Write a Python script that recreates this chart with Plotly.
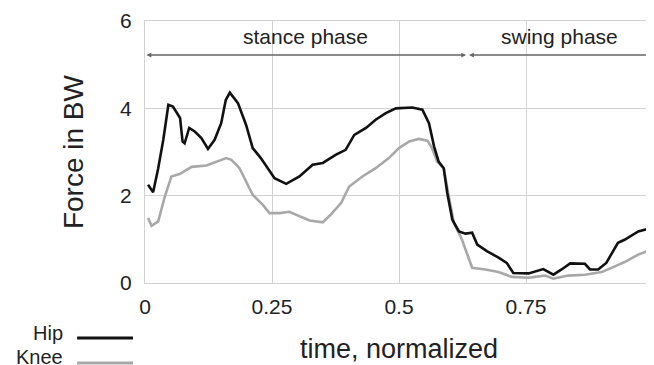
import plotly.graph_objects as go

# ---- data ----
hip_x = [0.006, 0.016, 0.026, 0.036, 0.046, 0.055, 0.069, 0.074, 0.078, 0.087, 0.098, 0.111,
         0.124, 0.137, 0.150, 0.159, 0.167, 0.183, 0.199, 0.212, 0.228, 0.242, 0.255, 0.278,
         0.304, 0.330, 0.350, 0.376, 0.395, 0.412, 0.435, 0.454, 0.474, 0.494, 0.526, 0.546,
         0.559, 0.569, 0.578, 0.588, 0.595, 0.605, 0.618, 0.631, 0.644, 0.654, 0.673, 0.696,
         0.712, 0.725, 0.755, 0.784, 0.804, 0.820, 0.837, 0.866, 0.876, 0.892, 0.908, 0.931,
         0.944, 0.971, 0.997]
hip_y = [2.25, 2.08, 2.63, 3.28, 4.08, 4.04, 3.78, 3.24, 3.20, 3.55, 3.47, 3.32,
         3.07, 3.28, 3.66, 4.19, 4.36, 4.12, 3.62, 3.09, 2.86, 2.63, 2.40, 2.27,
         2.44, 2.71, 2.75, 2.94, 3.05, 3.39, 3.55, 3.74, 3.89, 4.00, 4.02, 3.97,
         3.66, 3.13, 2.78, 2.63, 2.06, 1.45, 1.18, 1.13, 1.15, 0.88, 0.73, 0.58,
         0.46, 0.23, 0.22, 0.32, 0.19, 0.31, 0.45, 0.44, 0.31, 0.31, 0.46, 0.92,
         0.99, 1.18, 1.26]

knee_x = [0.006, 0.013, 0.026, 0.039, 0.052, 0.069, 0.082, 0.092, 0.121, 0.141, 0.160, 0.170,
          0.186, 0.212, 0.232, 0.245, 0.265, 0.284, 0.304, 0.324, 0.350, 0.366, 0.386, 0.402,
          0.428, 0.454, 0.480, 0.500, 0.520, 0.539, 0.556, 0.565, 0.575, 0.588, 0.598, 0.608,
          0.624, 0.644, 0.670, 0.696, 0.722, 0.755, 0.768, 0.788, 0.804, 0.833, 0.866, 0.899,
          0.925, 0.944, 0.971, 0.997]
knee_y = [1.49, 1.31, 1.41, 1.98, 2.44, 2.50, 2.59, 2.66, 2.69, 2.78, 2.86, 2.82,
          2.63, 2.02, 1.79, 1.60, 1.60, 1.63, 1.53, 1.43, 1.39, 1.57, 1.83, 2.21,
          2.44, 2.63, 2.86, 3.09, 3.24, 3.30, 3.26, 3.09, 2.78, 2.63, 1.98, 1.38,
          0.99, 0.35, 0.31, 0.25, 0.14, 0.12, 0.14, 0.17, 0.10, 0.17, 0.19, 0.25,
          0.38, 0.48, 0.65, 0.77]

x_tickvals = [0, 0.25, 0.5, 0.75, 1]
x_ticktext = ["0", "0.25", "0.5", "0.75", "1"]
y_tickvals = [0, 2, 4, 6]
y_ticktext = ["0", "2", "4", "6"]

phase_names = ["stance phase", "swing phase"]
phase_bounds = [(0.0, 0.632), (0.635, 1.0)]
phase_label_x = [0.316, 0.816]
arrow_y = 5.22
label_y = 5.65

FONT = "Arial, Liberation Sans, Helvetica, sans-serif"
TXT = "#222222"
GRID = "#d2d2d2"

fig = go.Figure()
fig.add_trace(go.Scatter(x=knee_x, y=knee_y, mode="lines", name="Knee",
                         line=dict(color="#a8a8a8", width=2.6)))
fig.add_trace(go.Scatter(x=hip_x, y=hip_y, mode="lines", name="Hip",
                         line=dict(color="#111111", width=2.6)))

annotations = []
for name, (a, b), lx in zip(phase_names, phase_bounds, phase_label_x):
    annotations.append(dict(x=b, y=arrow_y, ax=a, ay=arrow_y, xref="x", yref="y",
                            axref="x", ayref="y", text="", showarrow=True,
                            arrowhead=2, arrowsize=0.6, arrowwidth=1.6,
                            arrowside="end+start", arrowcolor="#666666"))
    annotations.append(dict(x=lx, y=label_y, xref="x", yref="y", text=name,
                            xanchor="center", yanchor="middle",
                            showarrow=False, font=dict(family=FONT, size=21, color=TXT)))

# axis titles
annotations.append(dict(x=0.5, y=-0.253, xref="paper", yref="paper", text="time, normalized",
                        xanchor="center", yanchor="middle",
                        showarrow=False, font=dict(family=FONT, size=27, color=TXT)))
annotations.append(dict(x=-0.1415, y=0.5, xref="paper", yref="paper", text="Force in BW",
                        xanchor="center", yanchor="middle",
                        textangle=-90, showarrow=False,
                        font=dict(family=FONT, size=28, color=TXT)))

# legend (text left of line sample)
legend_items = [("Hip", "#111111", -0.1924, -0.2095), ("Knee", "#a8a8a8", -0.2838, -0.305)]
shapes = []
for name, col, ty, ly in legend_items:
    annotations.append(dict(x=-0.158, y=ty, xref="paper", yref="paper", text=name,
                            xanchor="right", yanchor="middle", showarrow=False,
                            font=dict(family=FONT, size=20, color=TXT)))
    shapes.append(dict(type="line", xref="paper", yref="paper", x0=-0.1336, x1=-0.0236,
                       y0=ly, y1=ly, line=dict(color=col, width=3)))

# the page body has an 8px margin, so the figure is sized/offset to compensate
fig.update_layout(
    width=646, height=357,
    margin=dict(l=137, r=1, t=13, b=81.5, autoexpand=False),
    paper_bgcolor="white", plot_bgcolor="white",
    showlegend=False,
    annotations=annotations,
    shapes=shapes,
    font=dict(family=FONT, color=TXT),
)
fig.update_xaxes(range=[0, 1], tickvals=x_tickvals, ticktext=x_ticktext, automargin=False,
                 showgrid=True, gridcolor=GRID, gridwidth=1,
                 showline=True, linecolor=GRID, linewidth=1, mirror=True,
                 zeroline=False, ticks="outside", ticklen=5, tickcolor="rgba(0,0,0,0)",
                 ticklabeloverflow="allow",
                 tickfont=dict(family=FONT, size=21, color=TXT))
fig.update_yaxes(range=[0, 6], tickvals=y_tickvals, ticktext=y_ticktext, automargin=False,
                 showgrid=True, gridcolor=GRID, gridwidth=1,
                 showline=True, linecolor=GRID, linewidth=1, mirror=True,
                 zeroline=False, ticks="outside", ticklen=8, tickcolor="rgba(0,0,0,0)",
                 ticklabeloverflow="allow",
                 tickfont=dict(family=FONT, size=21, color=TXT))

fig.write_html("out.html")
